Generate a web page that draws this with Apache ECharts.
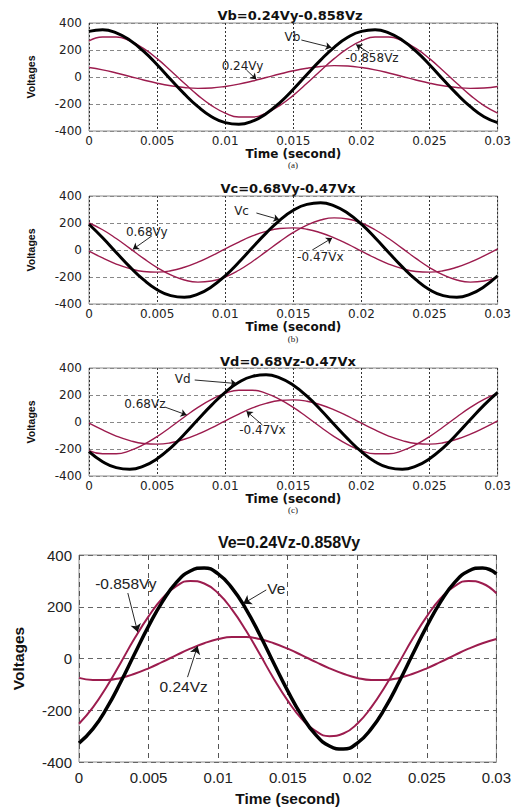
<!DOCTYPE html>
<html>
<head>
<meta charset="utf-8">
<script src="https://cdn.jsdelivr.net/npm/echarts@6/dist/echarts.min.js"></script>
<style>
html,body{margin:0;padding:0;background:#fff;}
#chart{width:514px;height:807px;}
</style>
</head>
<body>
<div id="chart"></div>
<script>
// ---- data (t in seconds, values in volts) ----
const time = [0, 0.001, 0.002, 0.003, 0.004, 0.005, 0.006, 0.007, 0.008, 0.009, 0.010,
  0.011, 0.012, 0.013, 0.014, 0.015, 0.016, 0.017, 0.018, 0.019, 0.020,
  0.021, 0.022, 0.023, 0.024, 0.025, 0.026, 0.027, 0.028, 0.029, 0.030];
const xTickLabels = ['0', '0.005', '0.01', '0.015', '0.02', '0.025', '0.03'];
const yTickLabels = ['-400', '-200', '0', '200', '400'];
const plotTitles = ['Vb=0.24Vy-0.858Vz', 'Vc=0.68Vy-0.47Vx', 'Vd=0.68Vz-0.47Vx', 'Ve=0.24Vz-0.858Vy'];
const captions = ['(a)', '(b)', '(c)'];

// (a)
const vb       = [338, 350, 327, 272, 191, 91, -18, -125, -220, -294, -338, -350, -327, -272, -191, -91, 18, 125, 220, 294, 338, 350, 327, 272, 191, 91, -18, -125, -220, -294, -338];
const vzNeg858 = [267, 296, 296, 267, 212, 136, 47, -47, -136, -212, -267, -296, -296, -267, -212, -136, -47, 47, 136, 212, 267, 296, 296, 267, 212, 136, 47, -47, -136, -212, -267];
const vy024    = [70, 53, 30, 4, -22, -46, -65, -78, -84, -81, -70, -53, -30, -4, 22, 46, 65, 78, 84, 81, 70, 53, 30, 4, -22, -46, -65, -78, -84, -81, -70];
// (b)
const vc       = [191, 91, -18, -125, -220, -294, -338, -350, -327, -272, -191, -91, 18, 125, 220, 294, 338, 350, 327, 272, 191, 91, -18, -125, -220, -294, -338, -350, -327, -272, -191];
const vy068    = [200, 150, 85, 12, -62, -130, -185, -222, -238, -230, -200, -150, -85, -12, 62, 130, 185, 222, 238, 230, 200, 150, 85, 12, -62, -130, -185, -222, -238, -230, -200];
const vxNeg047 = [-9, -59, -104, -138, -159, -164, -154, -128, -90, -43, 9, 59, 104, 138, 159, 164, 154, 128, 90, 43, -9, -59, -104, -138, -159, -164, -154, -128, -90, -43, 9];
// (c)
const vd       = [-220, -294, -338, -350, -327, -272, -191, -91, 18, 125, 220, 294, 338, 350, 327, 272, 191, 91, -18, -125, -220, -294, -338, -350, -327, -272, -191, -91, 18, 125, 220];
const vz068    = [-212, -235, -235, -212, -168, -108, -37, 37, 108, 168, 212, 235, 235, 212, 168, 108, 37, -37, -108, -168, -212, -235, -235, -212, -168, -108, -37, 37, 108, 168, 212];
// (d)
const ve       = [-327, -272, -191, -91, 18, 125, 220, 294, 338, 350, 327, 272, 191, 91, -18, -125, -220, -294, -338, -350, -327, -272, -191, -91, 18, 125, 220, 294, 338, 350, 327];
const vyNeg858 = [-252, -189, -108, -16, 78, 163, 233, 280, 300, 290, 252, 189, 108, 16, -78, -163, -233, -280, -300, -290, -252, -189, -108, -16, 78, 163, 233, 280, 300, 290, 252];
const vz024    = [-75, -83, -83, -75, -59, -38, -13, 13, 38, 59, 75, 83, 83, 75, 59, 38, 13, -13, -38, -59, -75, -83, -83, -75, -59, -38, -13, 13, 38, 59, 75];

// ---- styles ----
const RED = '#9c1c4e';
const SMALL = 'DejaVu Sans, sans-serif';
const BIG = 'Liberation Sans, Arial, sans-serif';

const grids = [
  {left: 89, top: 23, width: 410, height: 108},
  {left: 89, top: 196, width: 410, height: 108},
  {left: 89, top: 368, width: 410, height: 108},
  {left: 79, top: 555, width: 419, height: 207}
].map(g => Object.assign({show: true, borderColor: '#8c8c8c', borderWidth: 1, containLabel: false}, g));

function xAxisFor(i) {
  const big = i === 3;
  return {
    type: 'value', gridIndex: i, min: 0, max: 0.03, interval: 0.005,
    axisLine: {show: false}, axisTick: {show: false},
    axisLabel: {
      formatter: v => xTickLabels[Math.round(v / 0.005)],
      margin: big ? 8 : 4, color: '#222',
      fontFamily: big ? BIG : SMALL, fontSize: big ? 15 : 12
    },
    splitLine: {show: true, lineStyle: big ? {type: [5, 4], color: '#555', width: 1} : {type: [2, 2], color: '#333', width: 1}},
    name: 'Time (second)', nameLocation: 'middle', nameGap: big ? 28 : 12,
    nameTextStyle: {fontWeight: 'bold', color: '#111', fontFamily: big ? BIG : SMALL, fontSize: big ? 15.5 : 12}
  };
}
function yAxisFor(i) {
  const big = i === 3;
  return {
    type: 'value', gridIndex: i, min: -400, max: 400, interval: 200,
    axisLine: {show: false}, axisTick: {show: false},
    axisLabel: {
      formatter: v => yTickLabels[Math.round((v + 400) / 200)],
      margin: 7, color: '#222',
      fontFamily: big ? BIG : SMALL, fontSize: big ? 15 : 12
    },
    splitLine: {show: true, lineStyle: big ? {type: [5, 4], color: '#666', width: 1} : {type: [4, 3], color: '#888', width: 1}},
    name: 'Voltages', nameLocation: 'middle', nameRotate: 90, nameGap: 53,
    nameTextStyle: {fontWeight: 'bold', color: '#111',
      fontFamily: big ? BIG : '"Liberation Sans Narrow", "Liberation Sans", sans-serif', fontSize: big ? 15.5 : 10.5}
  };
}

function pairs(values) { return time.map((t, k) => [t, values[k]]); }

function curve(gi, values, color, width, z, notes) {
  const big = gi === 3;
  const s = {
    type: 'line', xAxisIndex: gi, yAxisIndex: gi, data: pairs(values),
    smooth: true, symbol: 'none', showSymbol: false, z: z,
    lineStyle: {color: color, width: width}, emphasis: {disabled: true}
  };
  if (notes) {
    s.markPoint = {
      silent: true, symbol: 'rect', symbolSize: 1, itemStyle: {color: 'rgba(0,0,0,0)'},
      label: {show: true, position: 'inside', formatter: p => p.name, color: '#222',
        fontFamily: big ? BIG : SMALL, fontSize: big ? 15.5 : 12},
      data: [{name: notes.text, coord: notes.at}]
    };
    s.markLine = {
      silent: true, symbol: ['none', 'arrow'], symbolSize: big ? 8 : 6,
      label: {show: false}, lineStyle: {color: '#111', width: 0.9, type: 'solid'},
      emphasis: {disabled: true},
      data: [[{coord: notes.from}, {coord: notes.to}]]
    };
  }
  return s;
}

const series = [
  // (a)
  curve(0, vy024, RED, 1.4, 2, {text: '0.24Vy', at: [0.01127, 81], from: [0.01156, 52], to: [0.01229, -18]}),
  curve(0, vzNeg858, RED, 1.4, 2, {text: '-0.858Vz', at: [0.02078, 141], from: [0.02056, 178], to: [0.01961, 240]}),
  curve(0, vb, '#000', 3, 3, {text: 'Vb', at: [0.01493, 296], from: [0.01559, 274], to: [0.0178, 218]}),
  // (b)
  curve(1, vy068, RED, 1.4, 2, {text: '0.68Vy', at: [0.00424, 133], from: [0.00461, 104], to: [0.00322, 5]}),
  curve(1, vxNeg047, RED, 1.4, 2, {text: '-0.47Vx', at: [0.01698, -52], from: [0.01639, 0], to: [0.01785, 89]}),
  curve(1, vc, '#000', 3, 3, {text: 'Vc', at: [0.0112, 289], from: [0.01229, 274], to: [0.01398, 225]}),
  // (c)
  curve(2, vz068, RED, 1.4, 2, {text: '0.68Vz', at: [0.0041, 133], from: [0.00556, 111], to: [0.00717, 52]}),
  curve(2, vxNeg047, RED, 1.4, 2, {text: '-0.47Vx', at: [0.01273, -59], from: [0.01273, -22], to: [0.01156, 80]}),
  curve(2, vd, '#000', 3, 3, {text: 'Vd', at: [0.00688, 319], from: [0.00776, 311], to: [0.01083, 285]}),
  // (d)
  curve(3, vz024, RED, 2, 2, {text: '0.24Vz', at: [0.00752, -110], from: [0.0078, -72], to: [0.00852, 48]}),
  curve(3, vyNeg858, RED, 2, 2, {text: '-0.858Vy', at: [0.00337, 288], from: [0.00351, 253], to: [0.00422, 102]}),
  curve(3, ve, '#000', 3.5, 3, {text: 'Ve', at: [0.01418, 272], from: [0.01346, 265], to: [0.0118, 212]})
];

const titlePos = [[290, 15, 13, SMALL], [288, 188, 13, SMALL], [288, 361, 13, SMALL], [289, 542, 16, BIG]];
const captionPos = [[293, 165], [293, 339], [293, 510]];
const graphic = [];
plotTitles.forEach((t, i) => {
  const p = titlePos[i];
  graphic.push({type: 'text', x: p[0], y: p[1], silent: true,
    style: {text: t, fill: '#111', font: 'bold ' + p[2] + 'px ' + p[3], align: 'center', verticalAlign: 'middle',
      textAlign: 'center', textVerticalAlign: 'middle'}});
});
captions.forEach((c, i) => {
  const p = captionPos[i];
  graphic.push({type: 'text', x: p[0], y: p[1], silent: true,
    style: {text: c, fill: '#222', font: '9px "Liberation Serif", serif', align: 'center', verticalAlign: 'middle',
      textAlign: 'center', textVerticalAlign: 'middle'}});
});

const chart = echarts.init(document.getElementById('chart'), null, {renderer: 'svg'});
chart.setOption({
  animation: false,
  backgroundColor: '#fff',
  grid: grids,
  xAxis: [0, 1, 2, 3].map(xAxisFor),
  yAxis: [0, 1, 2, 3].map(yAxisFor),
  series: series,
  graphic: graphic
});
</script>
</body>
</html>
